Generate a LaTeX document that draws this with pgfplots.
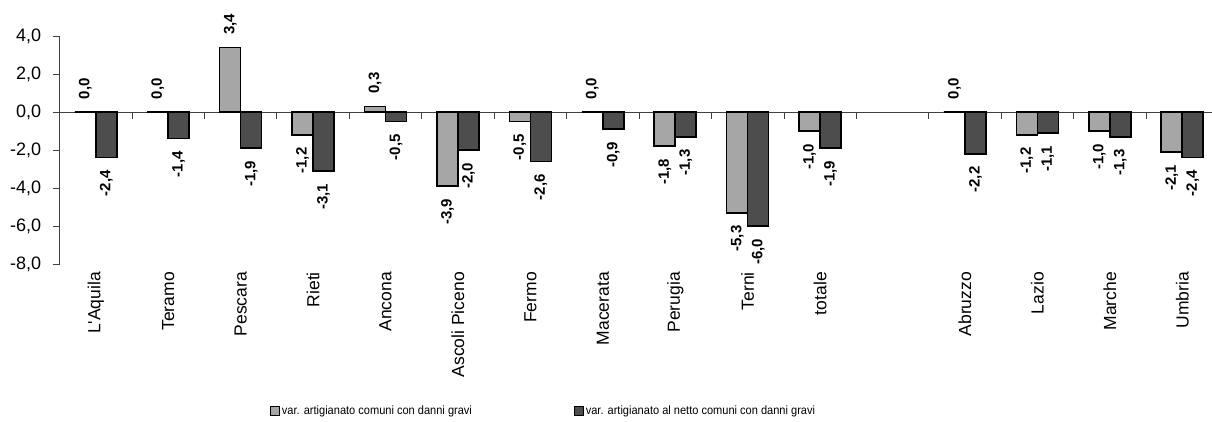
\documentclass[border=0pt]{standalone}
\usepackage{fontspec}
\setmainfont{Liberation Sans}
\newfontfamily\legfont[FakeStretch=0.92]{Liberation Sans}
\usepackage{pgfplots}
\pgfplotsset{compat=1.18}
\usepackage{pgfplotstable}
\usepackage{graphicx}

\definecolor{grigiochiaro}{RGB}{166,166,166}
\definecolor{grigioscuro}{RGB}{77,77,77}

% posizione, var. comuni con danni gravi, var. al netto
\pgfplotstableread{
x   a     b
0   0.0  -2.4
1   0.0  -1.4
2   3.4  -1.9
3  -1.2  -3.1
4   0.3  -0.5
5  -3.9  -2.0
6  -0.5  -2.6
7   0.0  -0.9
8  -1.8  -1.3
9  -5.3  -6.0
10 -1.0  -1.9
12  0.0  -2.2
13 -1.2  -1.1
14 -1.0  -1.3
15 -2.1  -2.4
}\datitab

\begin{document}
\begin{tikzpicture}
\begin{axis}[
    at={(0,0)}, anchor=south west,
    scale only axis,
    width=1158.9pt, height=228pt,
    xmin=-0.5, xmax=15.5,
    ymin=-8, ymax=4,
    axis x line*=middle,
    axis y line*=left,
    hide obscured x ticks=false,
    ybar=0pt,
    bar width=21pt,
    tick align=outside,
    xtick={0,1,2,3,4,5,6,7,8,9,10,12,13,14,15},
    xticklabels={L\textquotesingle Aquila,Teramo,Pescara,Rieti,Ancona,Ascoli Piceno,Fermo,Macerata,Perugia,Terni,totale,Abruzzo,Lazio,Marche,Umbria},
    major x tick style={draw=none},
    minor xtick={0.5,1.5,...,15.5},
    minor tick length=7pt,
    major tick length=7pt,
    xticklabel style={yshift=-153pt, rotate=90, anchor=east, inner sep=0pt,
        font=\fontsize{17.5}{21}\selectfont},
    ytick={-8,-6,...,4},
    yticklabel style={xshift=-8pt, font=\fontsize{18}{21}\selectfont},
    /pgf/number format/.cd, fixed, fixed zerofill, precision=1, use comma,
        assume math mode=true,
    /pgfplots/.cd,
    axis line style={line width=0.8pt, draw=black!75},
    every tick/.style={line width=0.8pt, draw=black!75},
    nodes near coords={\rotatebox{90}{\pgfmathprintnumber[fixed,fixed zerofill,precision=1,use comma,assume math mode=true]{\pgfplotspointmeta}}},
    nodes near coords align=vertical,
    every node near coord/.append style={font=\fontsize{15}{18}\bfseries\selectfont,
        inner xsep=0pt, inner ysep=12pt},
    legend columns=2,
    legend style={draw=none, fill=none, inner sep=0pt,
        at={(axis description cs:0.1815,-0.645)}, anchor=west,
        font=\legfont\fontsize{12}{14}\selectfont,
        /tikz/every even column/.append style={column sep=100pt}},
    legend image code/.code={\draw[#1, line width=0.8pt] (0pt,-4.5pt) rectangle (9pt,4.5pt);},
]
\addplot[fill=grigiochiaro, draw=black, line width=1.6pt] table[x=x, y=a] {\datitab};
\addlegendentry{var. artigianato comuni con danni gravi}
\addplot[fill=grigioscuro, draw=black, line width=1.6pt] table[x=x, y=b] {\datitab};
\addlegendentry{var. artigianato al netto comuni con danni gravi}
\end{axis}
\pgfresetboundingbox
\path[use as bounding box] (-59.6pt,-157pt) rectangle (1152.4pt,264pt);
\end{tikzpicture}
\end{document}
